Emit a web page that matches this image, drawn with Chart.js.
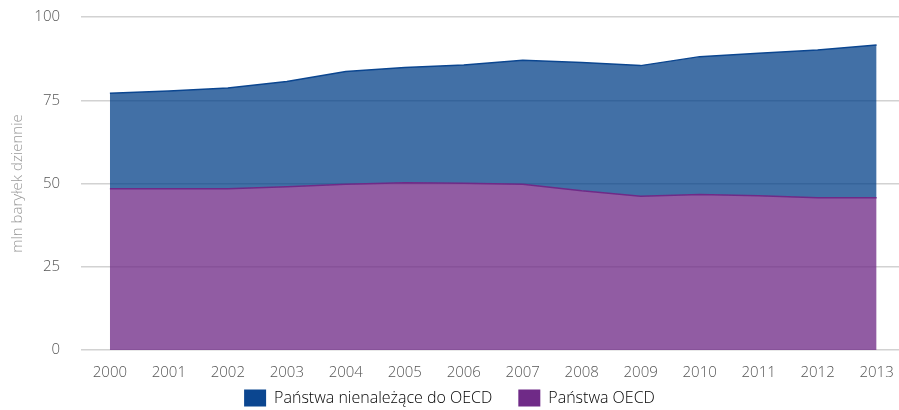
<!DOCTYPE html>
<html>
<head>
<meta charset="utf-8">
<script src="https://cdn.jsdelivr.net/npm/chart.js@4/dist/chart.umd.min.js"></script>
<style>
  html, body { margin: 0; padding: 0; background: #fff; }
  #wrap { width: 899px; height: 410px; position: relative; }
</style>
</head>
<body>
<div id="wrap"><canvas id="oilChart"></canvas></div>
<script>
const years = [2000, 2001, 2002, 2003, 2004, 2005, 2006, 2007, 2008, 2009, 2010, 2011, 2012, 2013];
// mln baryłek dziennie
const oecd = [48.4, 48.4, 48.4, 49.0, 49.8, 50.2, 50.1, 49.8, 47.8, 46.2, 46.7, 46.3, 45.7, 45.7];
const nonOecd = [28.7, 29.4, 30.3, 31.6, 33.8, 34.6, 35.5, 37.2, 38.5, 39.2, 41.4, 42.8, 44.4, 45.9];
const yTicks = [0, 25, 50, 75, 100];

const LEGEND_GAP = 26;     // space between legend items
const LEGEND_HEIGHT = 14;  // room kept for the legend under the axis

const toPoints = arr => arr.map((v, i) => ({ x: years[i], y: v }));

// legend padding is used both between items and above/below them;
// keep the wide gap between items but a short legend box
const compactLegend = {
    id: 'compactLegend',
    beforeInit(chart) {
        const lg = chart.legend;
        const origFit = lg.fit;
        lg.fit = function () {
            origFit.call(this);
            this.height = LEGEND_HEIGHT;
        };
    },
    afterLayout(chart) {
        chart.legend.top -= LEGEND_GAP + 6.5;
    }
};

const ctx = document.getElementById('oilChart').getContext('2d');
const font = { family: 'Open Sans', size: 15, weight: 300 };

new Chart(ctx, {
    type: 'line',
    data: {
        datasets: [
            {
                label: 'Państwa OECD',
                data: toPoints(oecd),
                borderColor: '#6f2a87',
                backgroundColor: 'rgba(112, 43, 135, 0.77)',
                borderWidth: 1.5,
                pointRadius: 0,
                tension: 0,
                fill: 'origin'
            },
            {
                label: 'Państwa nienależące do OECD',
                data: toPoints(nonOecd),
                borderColor: '#0b4690',
                backgroundColor: 'rgba(0, 62, 135, 0.74)',
                borderWidth: 1.5,
                pointRadius: 0,
                tension: 0,
                fill: '-1'
            }
        ]
    },
    options: {
        responsive: true,
        maintainAspectRatio: false,
        animation: false,
        layout: { padding: 0 },
        scales: {
            x: {
                type: 'linear',
                min: 1999.51,
                max: 2013.38,
                afterBuildTicks: axis => { axis.ticks = years.map(v => ({ value: v })); },
                afterFit: axis => { axis.paddingRight = 0; axis.paddingLeft = 0; },
                grid: { display: false, drawTicks: false },
                border: { display: false },
                ticks: {
                    color: '#555',
                    font: font,
                    padding: 14,
                    maxRotation: 0,
                    autoSkip: false,
                    callback: v => String(v)
                }
            },
            y: {
                stacked: true,
                min: 0,
                max: 100,
                afterBuildTicks: axis => { axis.ticks = yTicks.map(v => ({ value: v })); },
                afterFit: axis => {
                    axis.width = 81;
                    axis.paddingTop = 17;
                    axis.paddingBottom = 0;
                },
                grid: { color: '#d2d2d2', lineWidth: 1.5, drawTicks: false },
                border: { display: false },
                ticks: {
                    color: '#555',
                    font: font,
                    padding: 21
                },
                title: {
                    display: true,
                    text: 'mln baryłek dziennie',
                    color: '#999',
                    font: font,
                    padding: { top: 9, bottom: 0 }
                }
            }
        },
        plugins: {
            legend: {
                position: 'bottom',
                reverse: true,
                labels: {
                    boxWidth: 22,
                    boxHeight: 17,
                    padding: LEGEND_GAP,
                    color: '#555',
                    font: { family: 'Open Sans', size: 16, weight: 300 },
                    generateLabels: chart => chart.data.datasets.map((ds, i) => ({
                        text: ds.label,
                        fillStyle: ds.borderColor,
                        strokeStyle: ds.borderColor,
                        lineWidth: 0,
                        datasetIndex: i
                    }))
                }
            },
            tooltip: { enabled: false }
        }
    },
    plugins: [compactLegend]
});
</script>
</body>
</html>
